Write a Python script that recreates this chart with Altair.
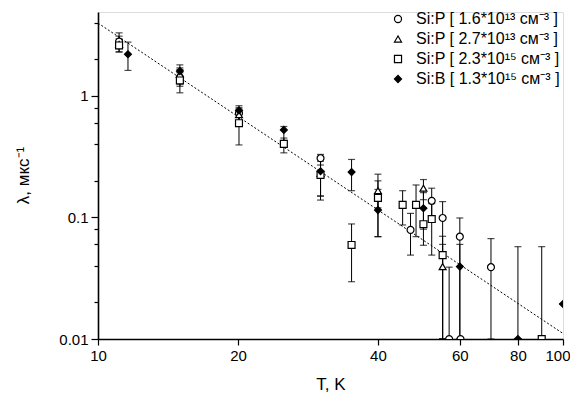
import altair as alt
import pandas as pd

series_names = [
    "Si:P [ 1.6*10¹³ см⁻³ ]",
    "Si:P [ 2.7*10¹³ см⁻³ ]",
    "Si:P [ 2.3*10¹⁵ см⁻³ ]",
    "Si:B [ 1.3*10¹⁵ см⁻³ ]",
]

# Si:P 1.6e13 (open circles)
c_T = [11.1, 15.0, 20.1, 30.1, 47.0, 52.2, 55.1, 56.9, 60.0, 60.2, 70.0]
c_lam = [2.8, 1.42, 0.72, 0.307, 0.079, 0.137, 0.099, 0.01, 0.0695, 0.01, 0.039]
c_lo = [2.45, 1.2, 0.62, 0.27, 0.049, 0.1, 0.01, 0.01, 0.01, 0.01, 0.01]
c_hi = [3.3, 1.65, 0.8, 0.33, 0.108, 0.174, 0.135, 0.039, 0.099, 0.01, 0.067]

# Si:P 2.7e13 (open triangles)
t_T = [11.1, 15.0, 20.1, 30.1, 40.0, 50.1, 55.1]
t_lam = [2.65, 1.5, 0.7, 0.23, 0.166, 0.174, 0.0394]
t_lo = [2.3, 1.25, 0.6, 0.15, 0.12, 0.14, 0.01]
t_hi = [3.1, 1.7, 0.78, 0.29, 0.227, 0.205, 0.06]

# Si:P 2.3e15 (open squares)
s_T = [11.1, 15.0, 20.1, 25.1, 30.1, 35.1, 40.0, 45.2, 48.3, 50.1, 52.2, 55.1, 90.0]
s_lam = [2.6, 1.34, 0.596, 0.403, 0.224, 0.0594, 0.145, 0.127, 0.127, 0.088, 0.097, 0.049, 0.01]
s_lo = [2.3, 1.06, 0.395, 0.34, 0.139, 0.0296, 0.0695, 0.0867, 0.0695, 0.059, 0.049, 0.01, 0.01]
s_hi = [2.95, 1.55, 0.7, 0.45, 0.3, 0.0884, 0.2, 0.166, 0.185, 0.12, 0.13, 0.07, 0.0575]

# Si:B 1.3e15 (filled diamonds)
d_T = [11.6, 15.0, 20.1, 25.1, 30.1, 35.1, 40.0, 50.1, 60.0, 80.0, 100.0]
d_lam = [2.2, 1.6, 0.76, 0.525, 0.24, 0.236, 0.115, 0.119, 0.0394, 0.01, 0.0194]
d_lo = [1.62, 1.3, 0.62, 0.43, 0.15, 0.166, 0.0695, 0.08, 0.01, 0.01, 0.0194]
d_hi = [2.77, 1.8, 0.83, 0.56, 0.3, 0.30, 0.17, 0.16, 0.06, 0.0575, 0.0194]

# dotted fit line end points
fit_T = [10, 100]
fit_lam = [3.97, 0.0111]

x_ticks = [10, 20, 40, 60, 80, 100]
y_ticks = [0.01, 0.02, 0.04, 0.06, 0.08, 0.1, 0.2, 0.4, 0.6, 0.8, 1, 2, 4]

rows = []
for name, T, lam, lo, hi in [
    (series_names[0], c_T, c_lam, c_lo, c_hi),
    (series_names[1], t_T, t_lam, t_lo, t_hi),
    (series_names[2], s_T, s_lam, s_lo, s_hi),
    (series_names[3], d_T, d_lam, d_lo, d_hi),
]:
    for a, b, l, h in zip(T, lam, lo, hi):
        rows.append({"series": name, "T": a, "lam": b, "lo": l, "hi": h})
df = pd.DataFrame(rows)
fit_df = pd.DataFrame({"T": fit_T, "lam": fit_lam})

FONT = "Liberation Sans"
is_decade = "abs(log(datum.value)/LN10 - round(log(datum.value)/LN10)) < 1e-6"
is_last = "datum.value >= 99"

xscale = alt.Scale(type="log", domain=[10, 100], nice=False)
yscale = alt.Scale(type="log", domain=[0.01, 4.9], nice=False)

xaxis = alt.Axis(values=x_ticks, format="~g", title="T, K", grid=False,
                 labelFontSize=15, titleFontSize=17, titleFontWeight="normal",
                 tickSize=6, labelPadding=3, titlePadding=13,
                 labelAlign={"condition": {"test": is_last, "value": "right"}, "value": "center"},
                 labelOffset={"condition": {"test": is_last, "value": 7}, "value": 0},
                 domainWidth=1.6, tickWidth=1.2, domainColor="black", tickColor="black",
                 labelColor="black", titleColor="black", labelFont=FONT, titleFont=FONT,
                 labelFlush=False)
yaxis = alt.Axis(values=y_ticks, title="λ, мкс⁻¹", grid=False,
                 labelExpr=f"({is_decade}) ? format(datum.value, '~g') : ''",
                 tickSize={"condition": {"test": is_decade, "value": 7}, "value": 4},
                 labelFontSize=15, titleFontSize=17, titleFontWeight="normal",
                 labelPadding=3, titleX=-66, titleY=163,
                 domainWidth=1.6, tickWidth=1.2, domainColor="black", tickColor="black",
                 labelColor="black", titleColor="black", labelFont=FONT, titleFont=FONT)

base = alt.Chart(df)

fit = alt.Chart(fit_df).mark_line(color="black", strokeWidth=1, strokeDash=[2, 2], clip=True).encode(
    x=alt.X("T:Q", scale=xscale, axis=xaxis),
    y=alt.Y("lam:Q", scale=yscale, axis=yaxis),
)

bars = base.mark_rule(color="black", strokeWidth=1, clip=True).encode(
    x=alt.X("T:Q", scale=xscale),
    y=alt.Y("lo:Q", scale=yscale),
    y2="hi:Q",
)
cap_hi = base.mark_tick(color="black", size=7, thickness=1.2, orient="horizontal", clip=True).encode(
    x=alt.X("T:Q", scale=xscale),
    y=alt.Y("hi:Q", scale=yscale),
)
cap_lo = base.mark_tick(color="black", size=7, thickness=1.2, orient="horizontal", clip=True).encode(
    x=alt.X("T:Q", scale=xscale),
    y=alt.Y("lo:Q", scale=yscale),
)

legend = alt.Legend(title=None, orient="none", legendX=292, legendY=-1,
                    labelFontSize=16, labelFont=FONT, labelColor="black",
                    symbolSize=50, symbolStrokeWidth=1.2, rowPadding=4, labelOffset=10)

points = base.mark_point(size=48, strokeWidth=1.2, opacity=1, clip=True).encode(
    x=alt.X("T:Q", scale=xscale),
    y=alt.Y("lam:Q", scale=yscale),
    shape=alt.Shape("series:N", scale=alt.Scale(domain=series_names,
                    range=["circle", "triangle-up", "square", "diamond"]), legend=legend),
    fill=alt.Fill("series:N", scale=alt.Scale(domain=series_names,
                  range=["white", "white", "white", "black"]), legend=legend),
    stroke=alt.Stroke("series:N", scale=alt.Scale(domain=series_names,
                      range=["black", "black", "black", "black"]), legend=legend),
)

chart = alt.layer(fit, bars, cap_hi, cap_lo, points).properties(
    width=465, height=327,
    autosize=alt.AutoSizeParams(type="none"),
    padding={"left": 90, "top": 4, "right": 7, "bottom": 56},
).configure_view(stroke="black", strokeWidth=1.6).configure(background="white")

chart.save("out.html", embed_options={"renderer": "svg", "actions": False})
